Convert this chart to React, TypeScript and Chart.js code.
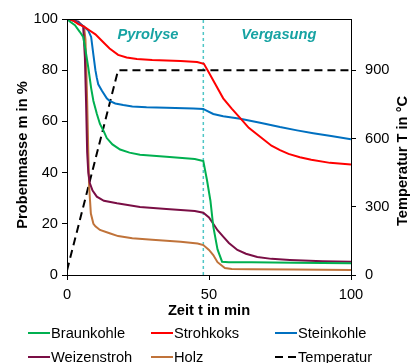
import React, { useEffect, useRef } from "react";
import { Chart, registerables } from "chart.js";

Chart.register(...registerables);

// ---- data (time in min, mass in %) ----
const braunkohleT = [0, 1, 2.8, 4.5, 5.7, 6.5, 7.5, 8.5, 9.3, 10.5, 11.6, 13, 14, 16, 18.7, 22, 25.7, 35, 45, 48, 49.3, 50.5, 51.5, 53, 54.6, 57, 65, 80, 100];
const braunkohleM = [100, 99, 97.6, 95, 93, 88, 81, 73, 68, 63, 59, 56, 53.5, 51, 49, 47.8, 47, 46.2, 45.3, 44.5, 37, 29, 19, 10, 5.2, 5, 5, 4.8, 4.6];

const strohkoksT = [0, 2, 4, 6, 8, 10, 12.7, 15, 18, 21, 24.6, 30, 40, 45.8, 48.2, 50, 52, 55, 58, 61, 64, 68, 72, 75, 78, 82, 86, 92.6, 100];
const strohkoksM = [100, 99.5, 98, 97, 95.5, 94, 91, 88.5, 86, 85, 84.4, 84, 83.6, 83.2, 82.5, 79, 75, 69, 65, 61.3, 57.5, 54, 50.5, 48.8, 47.3, 46, 45, 43.8, 43.2];

const steinkohleT = [0, 2, 4, 6, 7.5, 8.5, 9.3, 10, 10.5, 11, 12.3, 14, 15, 17, 19.8, 23, 28, 35, 44.5, 48, 48.6, 51.5, 55, 61, 68, 75, 81, 86.7, 93, 100];
const steinkohleM = [100, 99.5, 98.5, 97, 95.5, 93, 86, 80, 77, 74.5, 72, 69, 68, 67, 66.4, 65.8, 65.5, 65.3, 65, 64.8, 64.5, 62.9, 62, 61, 59.5, 57.8, 56.5, 55.4, 54.3, 53];

const weizenstrohT = [0, 2, 4, 5.7, 6.3, 6.7, 7.1, 7.5, 8, 9, 10.5, 13, 17.6, 25.7, 35, 45, 48, 50, 51.5, 53, 55, 57, 60, 63, 67, 72, 78.5, 90, 100];
const weizenstrohM = [100, 99.5, 99, 97, 85, 68, 48, 40, 36, 33, 30.6, 29, 28, 26.6, 25.8, 25, 24.3, 22.5, 20, 17.5, 15, 12.5, 9.8, 8.3, 7, 6.3, 5.9, 5.4, 5.2];

const holzT = [0, 2, 4, 6, 6.5, 7.1, 7.5, 7.8, 8.4, 9.3, 10, 11.6, 15, 18, 23, 30, 40, 46, 48, 50, 51.5, 53, 55.6, 58, 65, 80, 100];
const holzM = [100, 99.5, 98.5, 97, 92, 68, 48, 34.5, 24, 20, 19, 17.6, 16.3, 15.2, 14.4, 13.8, 13, 12.3, 11.7, 9.8, 7.8, 5, 2.7, 2.3, 2.2, 2.1, 2];

const temperaturT = [0, 18, 100];
const temperaturC = [20, 900, 900];

const phaseBoundaryT = [48, 48];
const phaseBoundaryM = [0, 100];

const massTicks = [0, 20, 40, 60, 80, 100];
const tempTicks = [0, 300, 600, 900];
const timeTicks = [0, 50, 100];

const seriesLabels = ["Braunkohle", "Strohkoks", "Steinkohle", "Weizenstroh", "Holz", "Temperatur"];
const seriesColors = ["#00B050", "#FF0000", "#0070C0", "#7A0E45", "#C0733A", "#000000"];

const phaseLabels = ["Pyrolyse", "Vergasung"];
const phaseLabelT = [28.5, 74.6];
const phaseLabelM = [93.7, 93.7];

const FONT = '"Liberation Sans", Arial, sans-serif';
const FS = 14.67;

function pts(t: number[], v: number[]) {
  return t.map((x, i) => ({ x, y: v[i] }));
}

const decorPlugin = {
  id: "decor",
  afterDraw(chart: any) {
    const ctx = chart.ctx as CanvasRenderingContext2D;
    const a = chart.chartArea;
    const xs = chart.scales.x;
    const ys = chart.scales.y;
    ctx.save();
    // frame
    ctx.strokeStyle = "#000";
    ctx.lineWidth = 1;
    ctx.strokeRect(Math.round(a.left) + 0.5, Math.round(a.top) + 0.5, Math.round(a.right - a.left), Math.round(a.bottom - a.top));

    // phase labels
    ctx.fillStyle = "#17A3A3";
    ctx.font = `italic bold ${FS}px ${FONT}`;
    ctx.textAlign = "center";
    ctx.textBaseline = "middle";
    phaseLabels.forEach((s, i) => {
      ctx.fillText(s, xs.getPixelForValue(phaseLabelT[i]), ys.getPixelForValue(phaseLabelM[i]));
    });

    // axis titles
    ctx.fillStyle = "#000";
    ctx.font = `bold ${FS}px ${FONT}`;
    ctx.fillText("Zeit t in min", (a.left + a.right) / 2, 311);
    ctx.save();
    ctx.translate(23, 155);
    ctx.rotate(-Math.PI / 2);
    ctx.fillText("Probenmasse m in %", 0, 0);
    ctx.restore();
    ctx.save();
    ctx.translate(403, 161);
    ctx.rotate(-Math.PI / 2);
    ctx.fillText("Temperatur T in °C", 0, 0);
    ctx.restore();

    // legend
    const colX = [28, 151, 275];
    const rowY = [333, 357];
    ctx.font = `${FS}px ${FONT}`;
    ctx.textAlign = "left";
    ctx.textBaseline = "middle";
    const ds = chart.data.datasets;
    for (let i = 0; i < seriesLabels.length; i++) {
      const x = colX[i % 3];
      const y = rowY[Math.floor(i / 3)];
      const d = ds[i];
      ctx.strokeStyle = d.borderColor;
      ctx.lineWidth = 2;
      ctx.setLineDash(d.borderDash || []);
      ctx.beginPath();
      ctx.moveTo(x, y);
      ctx.lineTo(x + 22, y);
      ctx.stroke();
      ctx.setLineDash([]);
      ctx.fillStyle = "#000";
      ctx.fillText(d.label, x + 23, y + 1);
    }
    ctx.restore();
  },
};

export default function App() {
  const ref = useRef<HTMLCanvasElement>(null);
  useEffect(() => {
    if (!ref.current) return;
    const massDatasets = [
      [braunkohleT, braunkohleM],
      [strohkoksT, strohkoksM],
      [steinkohleT, steinkohleM],
      [weizenstrohT, weizenstrohM],
      [holzT, holzM],
    ].map(([t, m], i) => ({
      label: seriesLabels[i],
      data: pts(t, m),
      borderColor: seriesColors[i],
      backgroundColor: seriesColors[i],
      borderWidth: 2,
      pointRadius: 0,
      fill: false,
      tension: 0,
      yAxisID: "y",
    }));
    const chart = new Chart(ref.current, {
      type: "line",
      data: {
        datasets: [
          ...massDatasets,
          {
            label: seriesLabels[5],
            data: pts(temperaturT, temperaturC),
            borderColor: seriesColors[5],
            backgroundColor: seriesColors[5],
            borderWidth: 2,
            borderDash: [8, 5],
            pointRadius: 0,
            fill: false,
            tension: 0,
            yAxisID: "y2",
          },
          {
            label: "",
            data: pts(phaseBoundaryT, phaseBoundaryM),
            borderColor: "#4FC6C6",
            borderWidth: 1.5,
            borderDash: [3, 3],
            pointRadius: 0,
            fill: false,
            yAxisID: "y",
          },
        ] as any,
      },
      options: {
        responsive: false,
        animation: false,
        events: [],
        layout: { padding: { top: 19, left: 0, right: 0, bottom: 48 } },
        plugins: {
          legend: { display: false },
          tooltip: { enabled: false },
        },
        scales: {
          x: {
            type: "linear",
            min: 0,
            max: 100,
            afterBuildTicks: (s: any) => {
              s.ticks = timeTicks.map((v) => ({ value: v }));
            },
            afterFit: (s: any) => {
              s.height = 40;
            },
            ticks: { font: { family: FONT, size: FS }, color: "#000", padding: 6, maxRotation: 0 },
            grid: { display: true, drawOnChartArea: false, drawTicks: true, tickLength: 5, color: "#000" },
            border: { display: true, color: "#000" },
          },
          y: {
            type: "linear",
            position: "left",
            min: 0,
            max: 100,
            afterBuildTicks: (s: any) => {
              s.ticks = massTicks.map((v) => ({ value: v }));
            },
            afterFit: (s: any) => {
              s.width = 67;
            },
            ticks: { font: { family: FONT, size: FS }, color: "#000", padding: 4 },
            grid: { display: true, drawOnChartArea: false, drawTicks: true, tickLength: 5, color: "#000" },
            border: { display: true, color: "#000" },
          },
          y2: {
            type: "linear",
            position: "right",
            min: 0,
            max: 1125,
            afterBuildTicks: (s: any) => {
              s.ticks = tempTicks.map((v) => ({ value: v }));
            },
            afterFit: (s: any) => {
              s.width = 60;
            },
            ticks: { font: { family: FONT, size: FS }, color: "#000", padding: 9 },
            grid: { display: true, drawOnChartArea: false, drawTicks: true, tickLength: 5, color: "#000" },
            border: { display: true, color: "#000" },
          },
        },
      } as any,
      plugins: [decorPlugin],
    });
    return () => chart.destroy();
  }, []);
  return (
    <div style={{ position: "fixed", left: 0, top: 0, width: 411, height: 363, background: "#fff" }}>
      <canvas ref={ref} width={411} height={363} />
    </div>
  );
}
